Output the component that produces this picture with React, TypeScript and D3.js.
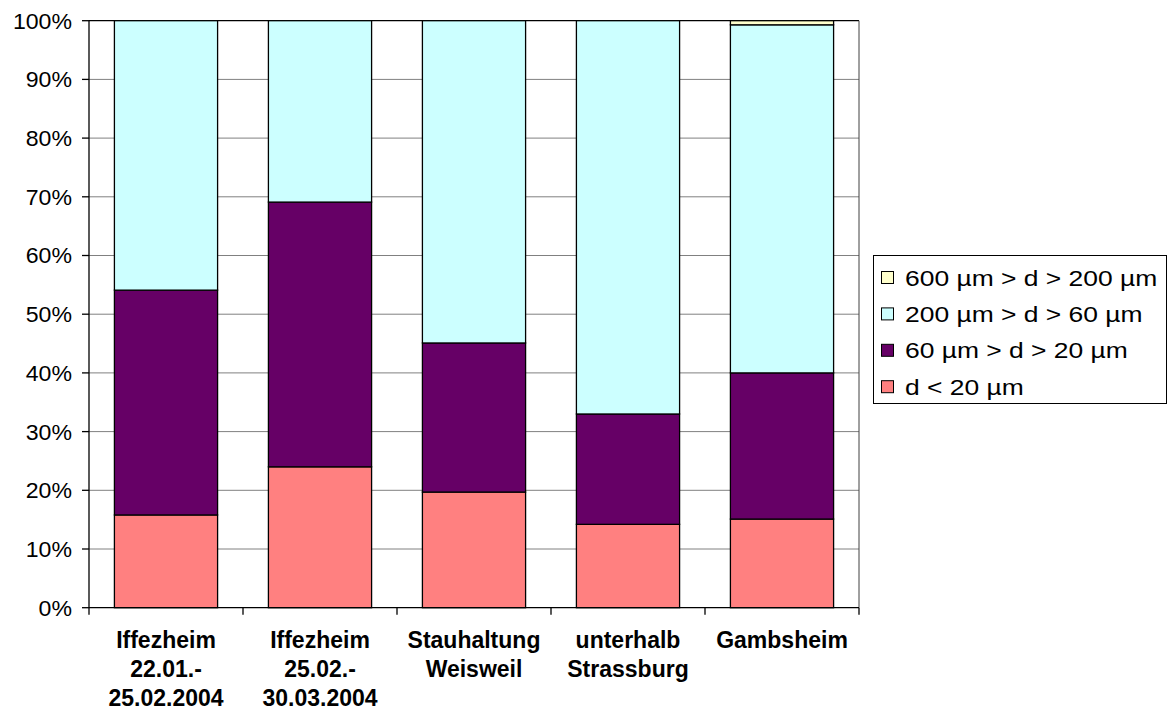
import React from "react";
import * as d3 from "d3";

const categories: string[][] = [
  ["Iffezheim", "22.01.-", "25.02.2004"],
  ["Iffezheim", "25.02.-", "30.03.2004"],
  ["Stauhaltung", "Weisweil"],
  ["unterhalb", "Strassburg"],
  ["Gambsheim"],
];

// Shares (%) per size class, bottom to top
const fine: number[] = [15.8, 24.0, 19.7, 14.2, 15.1];
const silt: number[] = [38.3, 45.1, 25.4, 18.8, 24.9];
const sand: number[] = [45.9, 30.9, 54.9, 67.0, 59.3];
const coarse: number[] = [0, 0, 0, 0, 0.7];

const seriesNames = ["d < 20 µm", "60 µm > d > 20 µm", "200 µm > d > 60 µm", "600 µm > d > 200 µm"];
const seriesColors = ["#FF8080", "#660066", "#CCFFFF", "#FFFFCC"];
const yTicks = [0, 10, 20, 30, 40, 50, 60, 70, 80, 90, 100];

const W = 1168;
const H = 711;
const plot = { left: 89, right: 859, top: 20.7, bottom: 607.7 };

export default function App() {
  const x = d3
    .scaleBand<number>()
    .domain(categories.map((_, i) => i))
    .range([plot.left, plot.right])
    .paddingInner(0.33)
    .paddingOuter(0.165);
  const y = d3.scaleLinear().domain([0, 100]).range([plot.bottom, plot.top]);

  const rows = categories.map((_, i) => ({
    i,
    s0: fine[i],
    s1: silt[i],
    s2: sand[i],
    s3: coarse[i],
  }));
  const stacked = d3.stack<any>().keys(["s0", "s1", "s2", "s3"])(rows);

  const step = (plot.right - plot.left) / categories.length;
  const boundaries = d3.range(categories.length + 1).map((k) => plot.left + k * step);

  const legendOrder = [3, 2, 1, 0];

  return (
    <svg
      width={W}
      height={H}
      style={{ position: "absolute", left: 0, top: 0, background: "#fff" }}
      fontFamily="'Liberation Sans', Arial, sans-serif"
    >
      {/* gridlines */}
      {yTicks.slice(1, -1).map((t) => (
        <line key={t} x1={plot.left} x2={plot.right} y1={y(t)} y2={y(t)} stroke="#808080" strokeWidth={1} />
      ))}
      <line x1={plot.left} x2={plot.right} y1={y(100)} y2={y(100)} stroke="#000" strokeWidth={1.2} />
      <line x1={plot.right} x2={plot.right} y1={plot.top} y2={plot.bottom} stroke="#404040" strokeWidth={1} />

      {/* bars */}
      {stacked.map((layer, li) =>
        layer.map((d, ci) =>
          d[1] - d[0] > 0 ? (
            <rect
              key={`${li}-${ci}`}
              x={x(ci)}
              width={x.bandwidth()}
              y={y(d[1])}
              height={y(d[0]) - y(d[1])}
              fill={seriesColors[li]}
              stroke="#000"
              strokeWidth={1.3}
            />
          ) : null
        )
      )}

      {/* axes */}
      <line x1={plot.left} x2={plot.left} y1={plot.top} y2={plot.bottom} stroke="#000" strokeWidth={1.3} />
      <line x1={plot.left} x2={plot.right} y1={plot.bottom} y2={plot.bottom} stroke="#000" strokeWidth={1.3} />
      {yTicks.map((t) => (
        <g key={t}>
          <line x1={plot.left - 7} x2={plot.left} y1={y(t)} y2={y(t)} stroke="#000" strokeWidth={1.3} />
          <text
            transform={`translate(72,${y(t)}) scale(1.05,1)`}
            dy="0.36em"
            textAnchor="end"
            fontSize={22}
          >
            {t}%
          </text>
        </g>
      ))}
      {boundaries.map((bx, k) => (
        <line key={k} x1={bx} x2={bx} y1={plot.bottom} y2={plot.bottom + 7} stroke="#000" strokeWidth={1.3} />
      ))}
      {categories.map((lines, ci) => (
        <text key={ci} textAnchor="middle" fontSize={23} fontWeight="bold">
          {lines.map((ln, li) => (
            <tspan key={li} x={x(ci)! + x.bandwidth() / 2} y={648 + li * 29}>
              {ln}
            </tspan>
          ))}
        </text>
      ))}

      {/* legend */}
      <rect x={873.5} y={255.5} width={293} height={148} fill="#fff" stroke="#000" strokeWidth={1} />
      {legendOrder.map((si, k) => {
        const cy = 277.5 + k * 36.4;
        return (
          <g key={si}>
            <rect x={881.5} y={cy - 6} width={12} height={12} fill={seriesColors[si]} stroke="#000" strokeWidth={1} />
            <text transform={`translate(905,${cy}) scale(1.175,1)`} dy="0.36em" fontSize={22.5}>
              {seriesNames[si]}
            </text>
          </g>
        );
      })}
    </svg>
  );
}
